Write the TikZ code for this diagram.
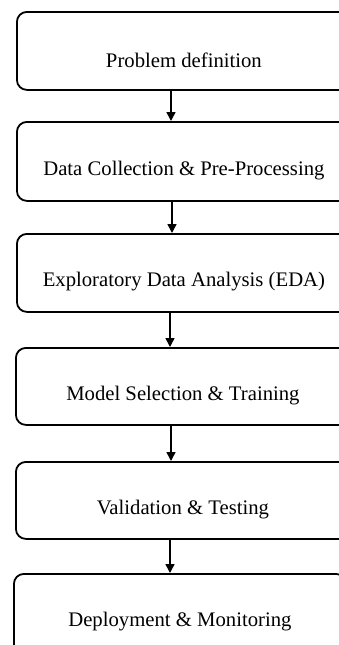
\documentclass[tikz,border=0pt]{standalone}
\usepackage{fontspec}
\setmainfont{Liberation Serif}
\usetikzlibrary{arrows.meta}
\begin{document}
\begin{tikzpicture}[x=1pt,y=-1pt,
  stagebox/.style={draw=black,line width=1.8pt,rounded corners=10pt,minimum width=334pt,minimum height=78pt,anchor=north west,inner sep=0pt},
  stagetxt/.style={font=\fontsize{20.7}{24}\selectfont,inner sep=0pt},
  arr/.style={line width=1.6pt,-{Triangle[length=9pt,width=9pt]}}]
\useasboundingbox (0,0) rectangle (338,645);
\node[stagebox] (b1) at (16,11) {};
\node[stagebox,minimum height=79pt] (b2) at (16,121) {};
\node[stagebox] (b3) at (16,233) {};
\node[stagebox,minimum height=77pt] (b4) at (15,347) {};
\node[stagebox,minimum height=77pt] (b5) at (15,461) {};
\node[stagebox,minimum width=332pt,minimum height=80pt] (b6) at (13,573) {};
\node[stagetxt] (t1) at ([yshift=-9pt]b1.center) {Problem definition};
\node[stagetxt] (t2) at ([yshift=-9pt]b2.center) {Data Collection \& Pre-Processing};
\node[stagetxt] (t3) at ([yshift=-9pt]b3.center) {Exploratory Data Analysis (EDA)};
\node[stagetxt] (t4) at ([yshift=-9pt]b4.center) {Model Selection \& Training};
\node[stagetxt] (t5) at ([yshift=-9pt]b5.center) {Validation \& Testing};
\node[stagetxt] (t6) at ([yshift=-8pt]b6.center) {Deployment \& Monitoring};
\coordinate (a1) at (171,0);
\coordinate (a2) at (172,0);
\coordinate (a3) at (170,0);
\coordinate (a4) at (171,0);
\coordinate (a5) at (170,0);
\draw[arr] (b1.south -| a1) -- (b2.north -| a1);
\draw[arr] (b2.south -| a2) -- (b3.north -| a2);
\draw[arr] (b3.south -| a3) -- (b4.north -| a3);
\draw[arr] (b4.south -| a4) -- (b5.north -| a4);
\draw[arr] (b5.south -| a5) -- (b6.north -| a5);
\end{tikzpicture}
\end{document}
